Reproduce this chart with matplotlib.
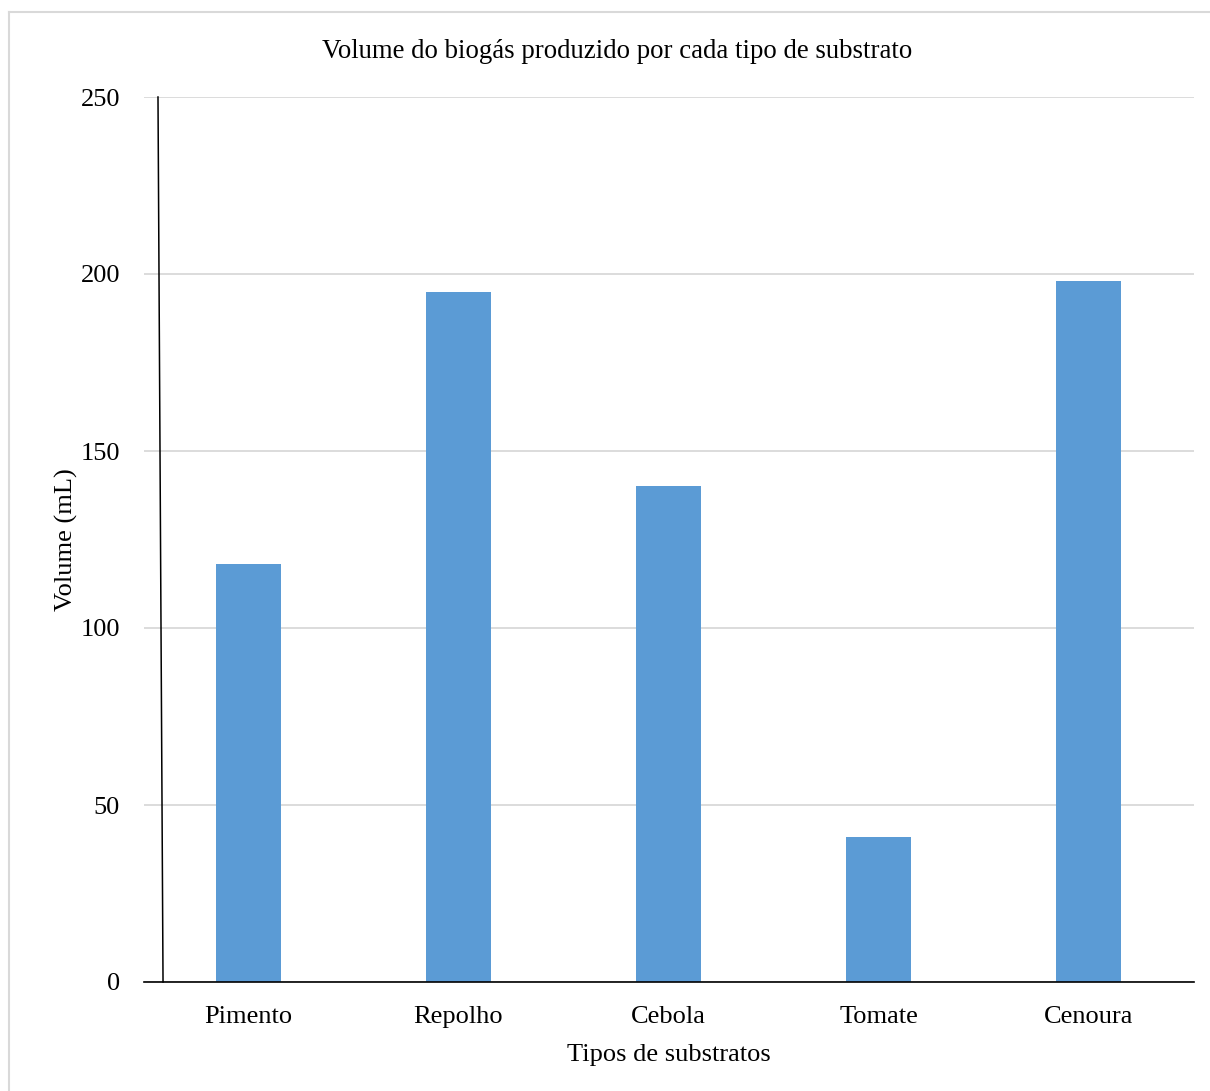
import matplotlib
matplotlib.use('Agg')
import matplotlib.pyplot as plt
from matplotlib.lines import Line2D

plt.rcParams['font.family'] = ['Liberation Serif', 'DejaVu Serif']

# dados
substratos = ['Pimento', 'Repolho', 'Cebola', 'Tomate', 'Cenoura']
volumes = [118, 195, 140, 41, 198]
yticks = [0, 50, 100, 150, 200, 250]

fig = plt.figure(figsize=(12.1, 10.91), dpi=100)
ax = fig.add_axes([143.5 / 1210, 109 / 1091, 1050 / 1210, 885 / 1091])

ax.bar(range(len(substratos)), volumes, width=0.31, color='#5B9BD5', zorder=3)

ax.set_xlim(-0.5, len(substratos) - 0.5)
ax.set_ylim(0, 250)
ax.set_yticks(yticks)
ax.set_xticks(range(len(substratos)))
ax.set_xticklabels(substratos)
ax.tick_params(axis='both', length=0, labelsize=19)
ax.tick_params(axis='y', pad=17)
ax.tick_params(axis='x', pad=17)

ax.grid(axis='y', color='#d9d9d9', linewidth=1.3, zorder=0)
for s in ['top', 'right', 'left']:
    ax.spines[s].set_visible(False)
ax.spines['bottom'].set_color('black')
ax.spines['bottom'].set_linewidth(1.2)
ax.spines['bottom'].set_zorder(4)

# eixo vertical ligeiramente inclinado, como no original
ax.add_line(Line2D([0.0138, 0.0186], [1, 0], transform=ax.transAxes,
                   color='black', linewidth=1.1, zorder=4, clip_on=False))

ax.set_xlabel('Tipos de substratos', fontsize=19, labelpad=12)
ax.set_ylabel('Volume (mL)', fontsize=19, labelpad=2)

fig.text(617 / 1210, 1 - 52 / 1091, 'Volume do biogás produzido por cada tipo de substrato',
         ha='center', va='center', fontsize=19.3)

# moldura cinza (só topo e esquerda visíveis)
fig.add_artist(Line2D([9 / 1210, 1], [1 - 11.5 / 1091, 1 - 11.5 / 1091],
                      transform=fig.transFigure, color='#d9d9d9', linewidth=1.5))
fig.add_artist(Line2D([9 / 1210, 9 / 1210], [0, 1 - 11.5 / 1091],
                      transform=fig.transFigure, color='#d9d9d9', linewidth=1.5))

fig.savefig('out.png', dpi=100)
plt.close()
